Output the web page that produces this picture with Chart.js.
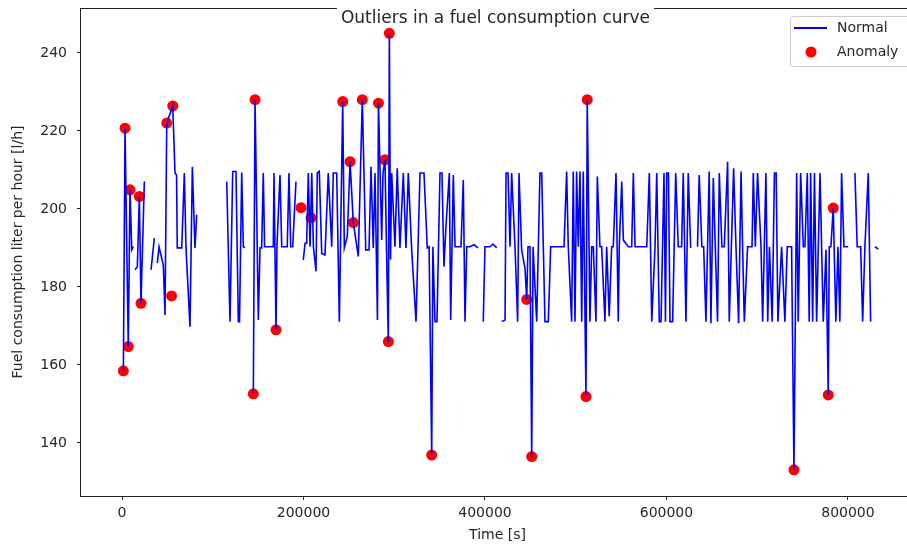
<!DOCTYPE html>
<html>
<head>
<meta charset="utf-8">
<script src="https://cdn.jsdelivr.net/npm/chart.js@4.4.1/dist/chart.umd.min.js"></script>
<style>
  html, body { margin: 0; padding: 0; background: #fff; overflow: hidden; }
  canvas { display: block; }
</style>
</head>
<body>
<canvas id="fuelChart" width="920" height="546" style="width:920px;height:546px"></canvas>
<script>
// time [s] and fuel [l/h] of the normal curve, null = no data (gap)
var normalTime = [
  1500, 3300, 6900, 8800, 10700, 12500, 13400,
  14300, 16900, 19100, 20900, 24600, 28000,
  32000, 35600, 37000,
  38900, 40800, 45500, 47400, 49300, 55900, 58400, 60100, 60900, 65800, 68700, 70500, 74900, 77500, 80400, 82300, 100000,
  115400, 119000, 122000, 125600, 128200, 129500, 131900, 133700, 135500, 140000,
  144700, 146600, 150200, 152100, 153900, 155700, 157100, 163100, 166700, 167500, 169700, 170800, 174100, 176000, 182100, 184000, 185900, 188100, 191700, 195000,
  199800, 201700, 203500, 205300, 207200, 209100, 210900, 213800, 215200, 217400, 220100, 223700, 227300, 231100, 232800, 236600,
  239500, 243200, 245000, 248300, 251300, 254900, 260400, 264800, 268600, 272200, 274400, 276900, 278800, 281500, 282600, 286200,
  287600, 289800, 291500, 293500, 294600, 295900, 297200, 300800, 303300, 306300, 310000, 312900, 315500, 319200, 324000, 328400,
  332800, 336400, 338400, 341300, 342600, 344900, 347100, 350400, 352600, 354800, 357000, 360700, 362200, 365100, 367000, 373600,
  376100, 378000, 379900, 383500, 387900, 392300, 395000,
  398100, 400000, 405500, 408800, 412900, 415500,
  418400, 422100, 423200, 425400, 427600, 429400, 433100, 436000, 437500, 440400, 444100, 446000, 447400, 449600, 451500, 453000,
  457000, 460600, 462500, 466100, 469800, 472400, 479000, 487100, 490000, 491800, 495500, 497300, 499200, 501000, 502800, 504700,
  506600, 508300, 511300, 512700, 515700, 517600, 519400, 522300, 523800, 526700, 528600, 532200, 534100, 536900, 539600, 541400,
  544400, 546900, 548000, 550700, 552500, 558000, 561700, 563500, 565400, 578300, 581100, 583800, 587400, 589300, 592100, 594000,
  597300, 598900, 600300, 602200, 603900, 606800, 610200, 613000, 616700, 618500, 621500, 624000, 626700, 630000,
  634200, 636100, 639000, 641000, 643500, 647100, 649000, 651600, 653800, 656300, 658200, 661100, 663700, 667400, 669200, 674000,
  676600, 679500, 682200, 683900, 685800, 689400, 694300, 695700, 697900, 700400, 704200, 706000, 709600, 711600, 713500, 716500,
  719000, 720900, 722800, 726900, 730500, 733100, 737900, 740500, 743500, 745200, 747900, 750800, 752600, 755200, 757300, 758900,
  761100, 763100, 765500, 769200, 772800, 775800, 778300, 779400, 781200, 783800, 786700, 789000, 791100, 793000, 795600, 800300, 804000,
  807700, 810200, 814000, 816200, 818700, 822400, 825000, 827500,
  829800, 833400
];
var normalFuel = [
  158.5, 220.7, 164.7, 204.9, 189.5, 190.3, null,
  184.4, 185.2, 203.2, 175.8, 207, null,
  184.4, 192.5, null,
  186.1, 190.3, 185.6, 172.8, 222, 226.4, 209.2, 208.7, 190, 190, 209.2, 190, 169.8, 210.8, 190, 198.5, null,
  207, 171.1, 209.6, 209.6, 171.1, 171.1, 209.3, 190.3, 190, null,
  152.6, 228, 171.5, 190, 190, 209.2, 190.3, 190.3, 190.3, 209.2, 169, 190.8, 208.7, 190.3, 190.3, 209.2, 190.3, 190.3, 207, null,
  186.9, 191.2, 191.2, 209.2, 190.3, 209.2, 190.3, 184, 209.2, 209.6, 188.6, 188.2, 209.2, 190.3, 209.2, 209.2,
  171.1, 227.5, 190, 193, 212.1, 196.5, 187.8, 228, 189.5, 189.5, 210.8, 190, 209.2, 171.5, 227.1, 192,
  209.2, 212.6, 189.5, 166, 245, 187, 209.2, 190.3, 210.4, 190, 209.2, 190, 209.2, 189.5, 171.1, 209.2,
  209.2, 190, 190.3, 136.9, 190.3, 171.1, 171.1, 209.2, 209.2, 185.2, 195.5, 209.2, 171.5, 208.7, 190.3, 190.3,
  207.4, 171.1, 190.3, 190.3, 190.8, 190, null,
  171.1, 190.3, 190.3, 191, 190, null,
  171.1, 171.5, 209.2, 209.2, 190.3, 209.2, 190.3, 171.1, 209.2, 189.5, 184.8, 176.8, 190.3, 190.3, 136.5, 190.3,
  171.1, 209.2, 209.2, 171.1, 171.1, 190.3, 190.3, 190.3, 209.6, 190.3, 171.1, 209.6, 171.1, 209.6, 190.3, 209.6,
  171.1, 209.6, 151.9, 228, 171.1, 190.3, 190.3, 171.1, 208.3, 190.3, 190.3, 171.1, 190.3, 172.4, 190.3, 190.3,
  209.2, 171.1, 190.3, 207, 192, 190.3, 190.3, 209.2, 190.3, 190.3, 209.2, 171.1, 190.3, 209.2, 171.1, 171.1,
  209.2, 171.1, 209.2, 209.2, 171.1, 171.1, 209.2, 190.3, 190.3, 209.2, 171.1, 209.2, 190, null,
  190.3, 208.7, 190.3, 190.3, 171.1, 209.6, 170.7, 207.9, 190.3, 171.1, 209.2, 190.3, 190.3, 212.1, 171.1, 210.4,
  190.3, 170.7, 209.6, 190.3, 171.1, 190.3, 190.3, 209.2, 190.3, 209.2, 190.3, 171.1, 209.2, 171.1, 190.3, 171.1,
  209.2, 209.2, 171.1, 190.3, 171.1, 190.3, 190.3, 133.1, 209.2, 171.1, 209.2, 190.3, 190.3, 209.2, 171.1, 209.2,
  171.1, 209.2, 171.1, 209.2, 171.1, 189.5, 152.3, 190.3, 190.3, 200.2, 171.1, 190.3, 171.1, 209.2, 190.3, 190.3, null,
  209.2, 190.3, 190.3, 171.1, 190.3, 209.2, 171.1, null,
  190.3, 189.7
];

// detected outliers
var anomalyTime = [1500, 3300, 6900, 8800, 19100, 20900, 49300, 54600, 55900, 144700, 146600, 169700, 197300, 208300, 243200,
  251300, 254900, 264800, 282600, 289800, 293500, 294600, 341300, 446000, 451500, 511300, 512700, 740500, 778300, 783800];
var anomalyFuel = [158.5, 220.7, 164.7, 204.9, 203.2, 175.8, 222, 177.7, 226.4, 152.6, 228, 169, 200.3, 197.7, 227.5,
  212.1, 196.5, 228, 227.1, 212.6, 166, 245, 136.9, 176.8, 136.5, 151.9, 228, 133.1, 152.3, 200.2];

var xTicks = [0, 200000, 400000, 600000, 800000];
var yTicks = [140, 160, 180, 200, 220, 240];

var textColor = '#262626';

// no extra room for half tick labels, the plot box is fixed
function fixBox(scale, w, h) {
  if (w) scale.width = w;
  if (h) scale.height = h;
  scale.paddingTop = 0;
  scale.paddingBottom = 0;
  scale.paddingLeft = 0;
  scale.paddingRight = 0;
}

// axes frame (all four spines)
var framePlugin = {
  id: 'frame',
  afterDraw: function(chart) {
    var a = chart.chartArea, c = chart.ctx;
    c.save();
    c.strokeStyle = '#222';
    c.lineWidth = 1;
    c.strokeRect(a.left - 0.5, a.top + 0.5, a.right - a.left + 1, a.bottom - a.top);
    c.restore();
  }
};

// title sits on the top spine with a white box
var titlePlugin = {
  id: 'plotTitle',
  afterDraw: function(chart) {
    var c = chart.ctx;
    var text = 'Outliers in a fuel consumption curve';
    c.save();
    c.font = '17px "DejaVu Sans"';
    var w = c.measureText(text).width;
    var cx = (chart.chartArea.left + chart.chartArea.right) / 2 - 2;
    c.fillStyle = '#fff';
    c.fillRect(cx - w / 2 - 4, 0, w + 8, 24);
    c.fillStyle = textColor;
    c.textAlign = 'center';
    c.textBaseline = 'alphabetic';
    c.fillText(text, cx, 23);
    c.restore();
  }
};

var legendPlugin = {
  id: 'plotLegend',
  afterDraw: function(chart) {
    var c = chart.ctx;
    var x = 790, y = 16, w = 123, h = 50;
    c.save();
    c.beginPath();
    c.roundRect(x + 0.5, y + 0.5, w, h, 3);
    c.fillStyle = 'rgba(255,255,255,0.8)';
    c.fill();
    c.strokeStyle = '#cccccc';
    c.lineWidth = 1;
    c.stroke();
    c.strokeStyle = '#0000ff';
    c.lineWidth = 2;
    c.beginPath();
    c.moveTo(794, 28);
    c.lineTo(827, 28);
    c.stroke();
    c.fillStyle = '#ff0000';
    c.beginPath();
    c.arc(811, 52, 5.5, 0, Math.PI * 2);
    c.fill();
    c.fillStyle = textColor;
    c.font = '14px "DejaVu Sans"';
    c.textBaseline = 'middle';
    c.fillText('Normal', 837, 28);
    c.fillText('Anomaly', 837, 52);
    c.restore();
  }
};

var ctx = document.getElementById('fuelChart').getContext('2d');
var fuelChart = new Chart(ctx, {
  type: 'line',
  data: {
    datasets: [{
      label: 'Normal',
      data: normalTime.map(function(t, i) { return { x: t, y: normalFuel[i] }; }),
      borderColor: '#0000ff',
      borderWidth: 1.6,
      pointRadius: 0,
      tension: 0,
      spanGaps: false,
      order: 0
    }, {
      type: 'scatter',
      label: 'Anomaly',
      data: anomalyTime.map(function(t, i) { return { x: t, y: anomalyFuel[i] }; }),
      backgroundColor: '#ff0000',
      borderWidth: 0,
      pointRadius: 5.5,
      order: 1
    }]
  },
  options: {
    responsive: false,
    animation: false,
    layout: { padding: { top: 8, right: 6, left: 0, bottom: 0 } },
    plugins: {
      legend: { display: false },
      tooltip: { enabled: false }
    },
    scales: {
      x: {
        type: 'linear',
        min: -45200,
        max: 872800,
        afterFit: function(scale) { fixBox(scale, 0, 50); },
        afterBuildTicks: function(scale) {
          scale.ticks = xTicks.map(function(v) { return { value: v }; });
        },
        grid: { drawOnChartArea: false, drawTicks: true, tickLength: 4, color: '#222' },
        border: { display: false },
        ticks: {
          color: textColor,
          font: { family: 'DejaVu Sans', size: 14 },
          padding: 5,
          maxRotation: 0,
          callback: function(v) { return String(v); }
        },
        title: {
          display: true,
          text: 'Time [s]',
          color: textColor,
          font: { family: 'DejaVu Sans', size: 14 },
          padding: { top: 0, bottom: 2 }
        }
      },
      y: {
        min: 126.4,
        max: 251.5,
        afterFit: function(scale) { fixBox(scale, 81, 0); },
        afterBuildTicks: function(scale) {
          scale.ticks = yTicks.map(function(v) { return { value: v }; });
        },
        grid: { drawOnChartArea: false, drawTicks: true, tickLength: 4, color: '#222' },
        border: { display: false },
        ticks: {
          color: textColor,
          font: { family: 'DejaVu Sans', size: 14 },
          padding: 10
        },
        title: {
          display: true,
          text: 'Fuel consumption liter per hour [l/h]',
          color: textColor,
          font: { family: 'DejaVu Sans', size: 14 },
          padding: { top: 10, bottom: 0 }
        }
      }
    }
  },
  plugins: [framePlugin, titlePlugin, legendPlugin]
});
</script>
</body>
</html>
